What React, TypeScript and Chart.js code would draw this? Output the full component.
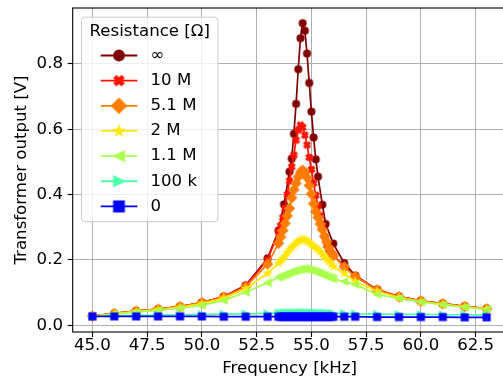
import React, { useEffect, useRef } from 'react';
import { Chart, registerables } from 'chart.js';
Chart.register(...registerables);

const FONT = 'DejaVu Sans';
const FS = 16.6;

const seriesLabels = ['∞', '10 M', '5.1 M', '2 M', '1.1 M', '100 k', '0'];
const seriesColors = ['#800000', '#ff1400', '#ff7d00', '#ffe600', '#aaff4d', '#4dffaa', '#0000ff'];
const seriesMarkers = ['circle', 'xfilled', 'diamond', 'star', 'triLeft', 'triRight', 'square'];

const xTickValues = [45, 47.5, 50, 52.5, 55, 57.5, 60, 62.5];
const yTickValues = [0, 0.2, 0.4, 0.6, 0.8];

const freqInf = [45, 46, 47, 48, 49, 50, 51, 52, 53, 53.5, 53.75, 54.0, 54.1, 54.2, 54.3, 54.4, 54.5, 54.6, 54.7, 54.8, 54.9, 55.0, 55.1, 55.2, 55.3, 55.5, 55.65, 56.0, 56.5, 57, 58, 59, 60, 61, 62, 63];
const vInf = [0.028, 0.036, 0.043, 0.049, 0.057, 0.069, 0.088, 0.122, 0.205, 0.29, 0.37, 0.47, 0.51, 0.586, 0.678, 0.784, 0.879, 0.925, 0.902, 0.832, 0.742, 0.654, 0.575, 0.508, 0.455, 0.369, 0.31, 0.25, 0.19, 0.152, 0.109, 0.088, 0.075, 0.066, 0.058, 0.051];

const freqs = [45, 46, 47, 48, 49, 50, 51, 52, 53,
  53.5, 53.6, 53.7, 53.8, 53.9, 54.0, 54.1, 54.2, 54.3, 54.4, 54.5, 54.6, 54.7, 54.8, 54.9, 55.0, 55.1, 55.2, 55.3, 55.4, 55.5, 55.6, 55.7, 55.8, 55.9, 56.0,
  56.5, 57, 58, 59, 60, 61, 62, 63];

const v10M = [0.028, 0.036, 0.043, 0.049, 0.057, 0.069, 0.087, 0.121, 0.200,
  0.286, 0.305, 0.330, 0.358, 0.400, 0.442, 0.485, 0.521, 0.567, 0.598, 0.613, 0.606, 0.582, 0.552, 0.514, 0.477, 0.435, 0.398, 0.365, 0.335, 0.305, 0.272, 0.245, 0.232, 0.222, 0.214,
  0.180, 0.150, 0.109, 0.088, 0.074, 0.066, 0.058, 0.051];
const v5M1 = [0.028, 0.036, 0.043, 0.049, 0.057, 0.069, 0.086, 0.118, 0.187,
  0.251, 0.270, 0.290, 0.312, 0.335, 0.358, 0.390, 0.415, 0.435, 0.455, 0.469, 0.475, 0.468, 0.452, 0.428, 0.402, 0.372, 0.348, 0.330, 0.310, 0.293, 0.273, 0.256, 0.238, 0.222, 0.212,
  0.179, 0.149, 0.108, 0.087, 0.074, 0.066, 0.057, 0.050];
const v2M = [0.027, 0.035, 0.042, 0.048, 0.055, 0.066, 0.083, 0.112, 0.159,
  0.190, 0.197, 0.204, 0.212, 0.222, 0.231, 0.238, 0.245, 0.251, 0.257, 0.261, 0.263, 0.262, 0.258, 0.253, 0.247, 0.241, 0.237, 0.232, 0.225, 0.217, 0.209, 0.202, 0.195, 0.187, 0.180,
  0.159, 0.134, 0.104, 0.085, 0.072, 0.064, 0.056, 0.050];
const v1M1 = [0.027, 0.034, 0.040, 0.046, 0.052, 0.061, 0.076, 0.101, 0.130,
  0.147, 0.150, 0.153, 0.155, 0.158, 0.161, 0.164, 0.166, 0.168, 0.170, 0.171, 0.172, 0.173, 0.172, 0.170, 0.168, 0.166, 0.164, 0.161, 0.158, 0.155, 0.153, 0.150, 0.147, 0.145, 0.142,
  0.134, 0.125, 0.094, 0.082, 0.071, 0.063, 0.055, 0.049];
const v100k = [0.027, 0.029, 0.030, 0.031, 0.032, 0.033, 0.034, 0.035, 0.036,
  0.037, 0.037, 0.037, 0.038, 0.038, 0.038, 0.038, 0.038, 0.038, 0.039, 0.039, 0.039, 0.039, 0.038, 0.038, 0.038, 0.038, 0.038, 0.037, 0.037, 0.037, 0.037, 0.036, 0.036, 0.036, 0.036,
  0.036, 0.035, 0.034, 0.033, 0.033, 0.032, 0.032, 0.031];
const v0 = [0.027, 0.027, 0.027, 0.027, 0.027, 0.027, 0.026, 0.026, 0.026,
  0.026, 0.026, 0.026, 0.026, 0.026, 0.026, 0.026, 0.026, 0.026, 0.026, 0.026, 0.026, 0.026, 0.026, 0.026, 0.026, 0.026, 0.026, 0.026, 0.026, 0.026, 0.026, 0.026, 0.026, 0.026, 0.026,
  0.026, 0.026, 0.025, 0.025, 0.025, 0.025, 0.024, 0.024];

const seriesFreqs = [freqInf, freqs, freqs, freqs, freqs, freqs, freqs];
const seriesValues = [vInf, v10M, v5M1, v2M, v1M1, v100k, v0];

const CW = 512;
const CH = 381;

function markerPath(ctx: CanvasRenderingContext2D, shape: string, ms: number) {
  const h = ms / 2;
  ctx.beginPath();
  if (shape === 'circle') {
    ctx.arc(0, 0, h, 0, Math.PI * 2);
  } else if (shape === 'square') {
    ctx.rect(-h, -h, ms, ms);
  } else if (shape === 'diamond') {
    const d = h * Math.SQRT2;
    ctx.moveTo(0, -d); ctx.lineTo(d, 0); ctx.lineTo(0, d); ctx.lineTo(-d, 0); ctx.closePath();
  } else if (shape === 'star') {
    const R = h, r = h * 0.381966;
    for (let k = 0; k < 10; k++) {
      const a = -Math.PI / 2 + (k * Math.PI) / 5;
      const rr = k % 2 === 0 ? R : r;
      const x = rr * Math.cos(a), y = rr * Math.sin(a);
      if (k === 0) ctx.moveTo(x, y); else ctx.lineTo(x, y);
    }
    ctx.closePath();
  } else if (shape === 'triLeft') {
    ctx.moveTo(-h, 0); ctx.lineTo(h, -h); ctx.lineTo(h, h); ctx.closePath();
  } else if (shape === 'triRight') {
    ctx.moveTo(h, 0); ctx.lineTo(-h, -h); ctx.lineTo(-h, h); ctx.closePath();
  } else if (shape === 'xfilled') {
    const pts = [[-1, -3], [1, -3], [1, -1], [3, -1], [3, 1], [1, 1], [1, 3], [-1, 3], [-1, 1], [-3, 1], [-3, -1], [-1, -1]];
    const c = Math.SQRT1_2;
    pts.forEach(([px, py], k) => {
      const x = ((px - py) * c * ms) / 6;
      const y = ((px + py) * c * ms) / 6;
      if (k === 0) ctx.moveTo(x, y); else ctx.lineTo(x, y);
    });
    ctx.closePath();
  }
}

function makeMarker(shape: string, ms: number, color: string, ew: number) {
  const size = Math.ceil(ms * 1.6 + ew + 4);
  const cv = document.createElement('canvas');
  cv.width = size;
  cv.height = size;
  const c = cv.getContext('2d')!;
  c.translate(size / 2, size / 2);
  markerPath(c, shape, ms);
  c.fillStyle = color;
  c.fill();
  c.lineWidth = ew;
  c.strokeStyle = color;
  c.lineJoin = 'miter';
  c.stroke();
  return cv;
}

export default function App() {
  const ref = useRef<HTMLCanvasElement>(null);
  useEffect(() => {
    const canvas = ref.current!;
    const plotMarkers = seriesMarkers.map((m, i) => makeMarker(m, 6.8, seriesColors[i], 1.3));
    const legendMarkers = seriesMarkers.map((m, i) => makeMarker(m, 10.5, seriesColors[i], 1.3));

    const framePlugin = {
      id: 'frameLegend',
      afterDraw(chart: any) {
        const { ctx, chartArea: a } = chart;
        ctx.save();
        ctx.strokeStyle = '#000';
        ctx.lineWidth = 1.1;
        ctx.strokeRect(a.left, a.top, a.right - a.left, a.bottom - a.top);

        // legend
        const bx = a.left + 8.8;
        const by = a.top + 9.2;
        const bw = 136.5;
        const bh = 204.5;
        const rad = 3.3;
        ctx.beginPath();
        ctx.moveTo(bx + rad, by);
        ctx.lineTo(bx + bw - rad, by);
        ctx.arcTo(bx + bw, by, bx + bw, by + rad, rad);
        ctx.lineTo(bx + bw, by + bh - rad);
        ctx.arcTo(bx + bw, by + bh, bx + bw - rad, by + bh, rad);
        ctx.lineTo(bx + rad, by + bh);
        ctx.arcTo(bx, by + bh, bx, by + bh - rad, rad);
        ctx.lineTo(bx, by + rad);
        ctx.arcTo(bx, by, bx + rad, by, rad);
        ctx.closePath();
        ctx.fillStyle = 'rgba(255,255,255,0.8)';
        ctx.fill();
        ctx.strokeStyle = '#cccccc';
        ctx.lineWidth = 1;
        ctx.stroke();

        ctx.font = `${FS}px "${FONT}"`;
        ctx.fillStyle = '#000';
        ctx.textBaseline = 'middle';
        ctx.textAlign = 'center';
        ctx.fillText('Resistance [Ω]', bx + bw / 2, by + 14.5);
        ctx.textAlign = 'left';
        seriesLabels.forEach((lab, i) => {
          const y = by + 38.3 + 25.15 * i;
          ctx.strokeStyle = seriesColors[i];
          ctx.lineWidth = 1.8;
          ctx.beginPath();
          ctx.moveTo(bx + 19.2, y);
          ctx.lineTo(bx + 55.8, y);
          ctx.stroke();
          const img = legendMarkers[i];
          ctx.drawImage(img, bx + 37.5 - img.width / 2, y - img.height / 2);
          ctx.fillStyle = '#000';
          ctx.fillText(lab, bx + 69, y);
        });
        ctx.restore();
      },
    };

    const n = seriesLabels.length;
    const datasets = seriesLabels.map((lab, i) => ({
      label: lab,
      data: seriesFreqs[i].map((f, k) => ({ x: f, y: seriesValues[i][k] })),
      borderColor: seriesColors[i],
      backgroundColor: seriesColors[i],
      borderWidth: 1.7,
      pointStyle: plotMarkers[i] as any,
      pointRadius: 4,
      tension: 0,
      order: n - 1 - i,
    }));

    const tickFont = { family: FONT, size: FS };
    const chart = new Chart(canvas, {
      type: 'line',
      data: { datasets },
      options: {
        animation: false,
        responsive: false,
        devicePixelRatio: 1,
        events: [],
        layout: { padding: { left: 0, top: 8, right: CW - 507.5, bottom: 0 } },
        plugins: { legend: { display: false }, tooltip: { enabled: false } },
        scales: {
          x: {
            type: 'linear',
            min: 44.1,
            max: 63.9,
            z: 1,
            afterBuildTicks: (s: any) => { s.ticks = xTickValues.map((v) => ({ value: v })); },
            afterFit: (s: any) => { s.height = 49; s.paddingLeft = 0; s.paddingRight = 0; },
            ticks: { callback: (v: any) => Number(v).toFixed(1), font: { family: FONT, size: FS, lineHeight: 1 }, color: '#000', padding: 0, autoSkip: false, maxRotation: 0 },
            grid: { color: '#b0b0b0', lineWidth: 1, tickColor: '#000', tickLength: 5, tickWidth: 1.1, drawTicks: true },
            border: { display: false },
            title: { display: true, text: 'Frequency [kHz]', font: tickFont, color: '#000', padding: { top: 0, bottom: 2 } },
          },
          y: {
            type: 'linear',
            min: -0.0208,
            max: 0.9715,
            z: 1,
            afterBuildTicks: (s: any) => { s.ticks = yTickValues.map((v) => ({ value: v })); },
            afterFit: (s: any) => { s.width = 72.7; s.paddingTop = 0; s.paddingBottom = 0; },
            ticks: { callback: (v: any) => Number(v).toFixed(1), font: tickFont, color: '#000', padding: 4.7, autoSkip: false },
            grid: { color: '#b0b0b0', lineWidth: 1, tickColor: '#000', tickLength: 5, tickWidth: 1.1, drawTicks: true },
            border: { display: false },
            title: { display: true, text: 'Transformer output [V]', font: tickFont, color: '#000', padding: { top: 12, bottom: 0 } },
          },
        },
      } as any,
      plugins: [framePlugin],
    });
    return () => chart.destroy();
  }, []);

  return (
    <div style={{ position: 'fixed', left: 0, top: 0, width: 503, height: CH, overflow: 'hidden', background: '#fff' }}>
      <canvas ref={ref} width={CW} height={CH} style={{ width: CW, height: CH, display: 'block' }} />
    </div>
  );
}
